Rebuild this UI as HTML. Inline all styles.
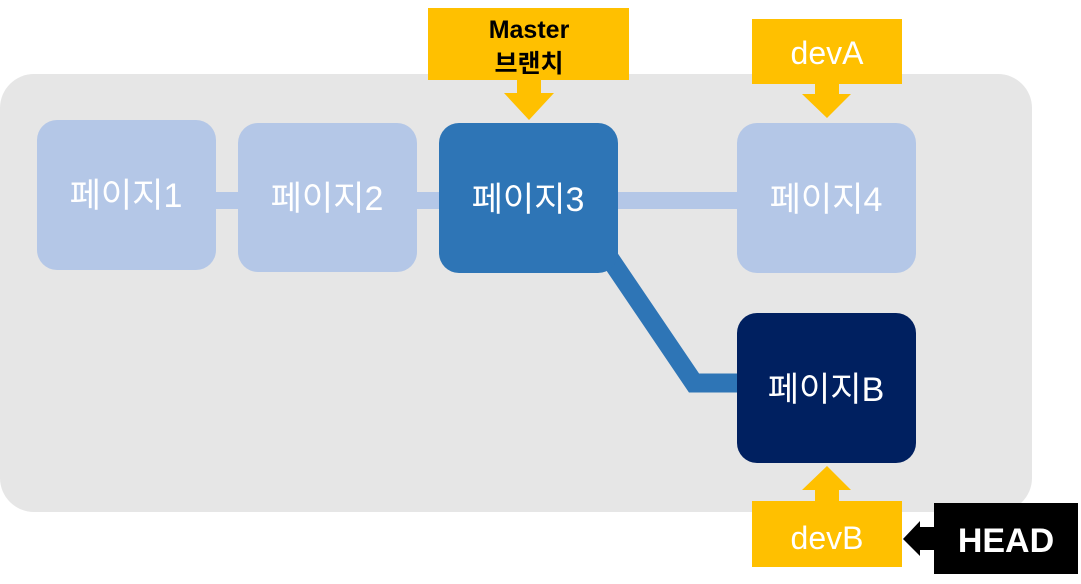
<!DOCTYPE html>
<html><head><meta charset="utf-8"><style>
html,body{margin:0;padding:0;background:#fff;}
svg{display:block;}
text{font-family:"Liberation Sans","Noto Sans CJK KR",sans-serif;}
</style></head><body>
<svg width="1081" height="584" viewBox="0 0 1081 584" xmlns="http://www.w3.org/2000/svg">
<rect x="0" y="74" width="1032" height="438" rx="34" fill="#e6e6e6"/>
<!-- light connectors -->
<rect x="210" y="192" width="540" height="17" fill="#b4c7e7"/>
<!-- dark connector -->
<polyline points="604,250 694,383 745,383" fill="none" stroke="#2e75b6" stroke-width="19"/>
<!-- nodes -->
<rect x="37" y="120" width="179" height="150" rx="20" fill="#b4c7e7"/>
<rect x="238" y="123" width="179" height="149" rx="20" fill="#b4c7e7"/>
<rect x="439" y="123" width="179" height="150" rx="20" fill="#2e75b6"/>
<rect x="737" y="123" width="179" height="150" rx="20" fill="#b4c7e7"/>
<rect x="737" y="313" width="179" height="150" rx="20" fill="#002060"/>
<g fill="#fff" font-size="34" text-anchor="middle">
<text x="126" y="207">페이지1</text>
<text x="327" y="210">페이지2</text>
<text x="528" y="211">페이지3</text>
<text x="826" y="211">페이지4</text>
<text x="826" y="401">페이지B</text>
</g>
<!-- Master -->
<rect x="428" y="8" width="201" height="72" fill="#ffc000"/>
<polygon points="517,80 541,80 541,93 554,93 529,120 504,93 517,93" fill="#ffc000"/>
<text x="529" y="38" font-size="25" font-weight="bold" text-anchor="middle" fill="#000">Master</text>
<text x="529" y="72" font-size="25" font-weight="bold" text-anchor="middle" fill="#000">브랜치</text>
<!-- devA -->
<rect x="752" y="19" width="150" height="65" fill="#ffc000"/>
<polygon points="815,84 839,84 839,94 851,94 827,118 802,94 815,94" fill="#ffc000"/>
<text x="827" y="64" font-size="32" text-anchor="middle" fill="#fff">devA</text>
<!-- devB -->
<rect x="752" y="501" width="150" height="66" fill="#ffc000"/>
<polygon points="815,501 839,501 839,490 851,490 827,466 802,490 815,490" fill="#ffc000"/>
<text x="827" y="549" font-size="32" text-anchor="middle" fill="#fff">devB</text>
<!-- HEAD -->
<rect x="934" y="503" width="144" height="71" fill="#000"/>
<polygon points="934,527 920,527 920,521 903,539 920,556 920,550 934,550" fill="#000"/>
<text x="1006" y="552" font-size="34" font-weight="bold" text-anchor="middle" fill="#fff">HEAD</text>
</svg>
</body></html>
